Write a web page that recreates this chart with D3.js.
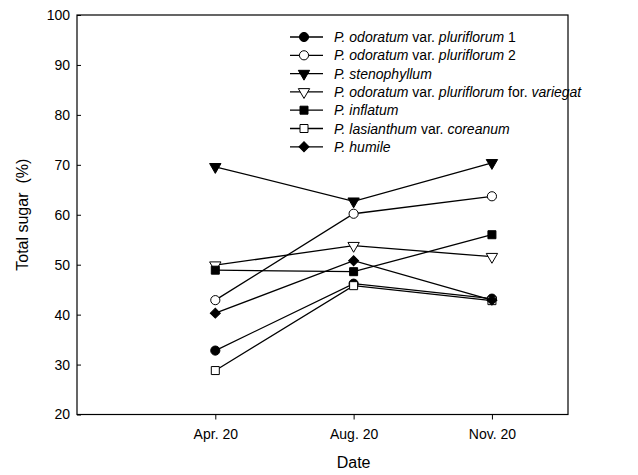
<!DOCTYPE html>
<html>
<head>
<meta charset="utf-8">
<script src="https://cdn.jsdelivr.net/npm/d3@7"></script>
<style>
  body { margin: 0; background: #fff; }
  text { font-family: "Liberation Sans", Arial, sans-serif; }
</style>
</head>
<body>
<div id="chart"></div>
<script>
const dates = ["Apr. 20", "Aug. 20", "Nov. 20"];
const yTicks = [20, 30, 40, 50, 60, 70, 80, 90, 100];

const seriesNames = [
  ["P.", " odoratum", " var. ", "pluriflorum", " 1"],
  ["P.", " odoratum", " var. ", "pluriflorum", " 2"],
  ["P.", " stenophyllum"],
  ["P.", " odoratum", " var. ", "pluriflorum", " for. ", "variegat"],
  ["P.", " inflatum"],
  ["P.", " lasianthum", " var. ", "coreanum"],
  ["P.", " humile"]
];
const seriesMarkers = ["circle", "circle", "triangle", "triangle", "square", "square", "diamond"];
const seriesFilled = [true, false, true, false, true, false, true];

const odoratum1 = [32.8, 46.2, 43.2];
const odoratum2 = [42.9, 60.2, 63.7];
const stenophyllum = [69.6, 62.7, 70.4];
const variegat = [49.9, 53.8, 51.6];
const inflatum = [48.9, 48.6, 56.0];
const lasianthum = [28.8, 45.8, 42.8];
const humile = [40.3, 50.8, 42.9];
const seriesValues = [odoratum1, odoratum2, stenophyllum, variegat, inflatum, lasianthum, humile];

const width = 638, height = 475;
const margin = { left: 77, right: 70, top: 15, bottom: 60.5 };

const svg = d3.select("#chart").append("svg")
  .attr("width", width).attr("height", height);

// positions 1..3 for the dates, extra room on both sides like the original
const x = d3.scaleLinear().domain([0, 3.55]).range([margin.left, width - margin.right]);
const y = d3.scaleLinear().domain([20, 100]).range([height - margin.bottom, margin.top]);

const symbols = {
  circle: d3.symbol().type(d3.symbolCircle).size(66),
  square: d3.symbol().type(d3.symbolSquare).size(64),
  diamond: d3.symbol().type(d3.symbolSquare).size(50),
  triangle: d3.symbol().type(d3.symbolTriangle).size(56)
};

function marker(g, i) {
  const type = seriesMarkers[i];
  g.append("path")
    .attr("d", symbols[type]())
    .attr("transform", type == "triangle" ? "rotate(180)" : type == "diamond" ? "rotate(45)" : null)
    .attr("fill", seriesFilled[i] ? "#000" : "#fff")
    .attr("stroke", "#000")
    .attr("stroke-width", 1);
}

// frame
svg.append("rect")
  .attr("x", x(0)).attr("y", y(100))
  .attr("width", x(3.55) - x(0)).attr("height", y(20) - y(100))
  .attr("fill", "none").attr("stroke", "#000").attr("stroke-width", 1.2);

// y axis (ticks point inward)
const yAxis = svg.append("g")
  .attr("transform", `translate(${x(0)},0)`)
  .call(d3.axisLeft(y).tickValues(yTicks).tickSize(-4).tickPadding(7));
yAxis.select(".domain").remove();
yAxis.selectAll("text").attr("font-size", 14).attr("fill", "#000")
  .style("font-family", "'Liberation Sans', Arial, sans-serif");

// x axis
const xAxis = svg.append("g")
  .attr("transform", `translate(0,${y(20)})`)
  .call(d3.axisBottom(x).tickValues([1, 2, 3]).tickFormat((d) => dates[d - 1]).tickSize(5).tickPadding(10));
xAxis.select(".domain").remove();
xAxis.selectAll("text").attr("font-size", 14).attr("fill", "#000")
  .style("font-family", "'Liberation Sans', Arial, sans-serif");

// axis titles
svg.append("text")
  .attr("x", x(2)).attr("y", 468)
  .attr("text-anchor", "middle").attr("font-size", 16)
  .text("Date");
svg.append("text")
  .attr("transform", `translate(28,${y(60)}) rotate(-90)`)
  .attr("text-anchor", "middle").attr("font-size", 16)
  .attr("xml:space", "preserve")
  .text("Total sugar  (%)");

// series
const line = d3.line().x((d, i) => x(i + 1)).y((d) => y(d));
seriesValues.forEach((vals, i) => {
  svg.append("path")
    .attr("d", line(vals))
    .attr("fill", "none").attr("stroke", "#000").attr("stroke-width", 1.3);
});
seriesValues.forEach((vals, i) => {
  vals.forEach((v, j) => {
    const g = svg.append("g").attr("transform", `translate(${x(j + 1)},${y(v)})`);
    marker(g, i);
  });
});

// legend
const legend = svg.append("g").attr("transform", "translate(290,37)");
seriesNames.forEach((parts, i) => {
  const row = legend.append("g").attr("transform", `translate(0,${i * 18.3})`);
  row.append("line").attr("x1", 0).attr("x2", 33).attr("y1", 0).attr("y2", 0)
    .attr("stroke", "#000").attr("stroke-width", 1.3);
  const m = row.append("g").attr("transform", "translate(14,0)");
  marker(m, i);
  const t = row.append("text").attr("x", 44).attr("y", 5).attr("font-size", 14)
    .attr("xml:space", "preserve");
  parts.forEach((p, k) => {
    const plain = p.startsWith(" var.") || p.startsWith(" for.") || /^ \d$/.test(p);
    t.append("tspan").attr("font-style", plain ? "normal" : "italic").text(p);
  });
});
</script>
</body>
</html>
